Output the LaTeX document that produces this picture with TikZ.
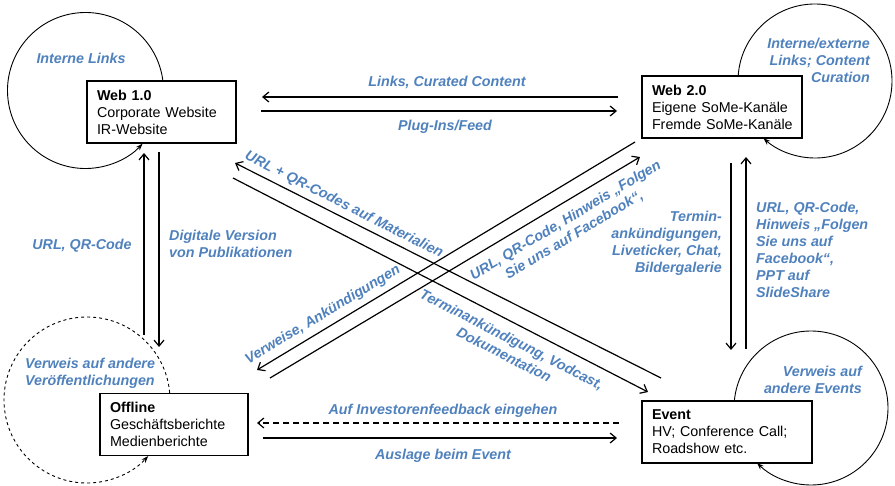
\documentclass[tikz,border=0pt]{standalone}
\usepackage{fontspec}
\setmainfont{Liberation Sans}
\usetikzlibrary{arrows.meta}
\definecolor{labelblue}{HTML}{4F81BD}
\begin{document}
\begin{tikzpicture}[x=1pt,y=-1pt,
  every node/.style={font=\fontsize{14.3}{17}\selectfont},
  box/.style={draw, line width=1.1pt, fill=white, rectangle, inner xsep=10pt,
    inner ysep=0pt, align=left, minimum height=62pt},
  lbl/.style={text=labelblue, inner sep=0pt,
    font=\fontsize{14.3}{17}\selectfont\bfseries\itshape},
  flow/.style={line width=1.2pt, -{Straight Barb[length=6pt,width=10pt]}},
  selfloop/.style={line width=0.9pt, -{Stealth[length=7pt,width=5pt]}},
]
\useasboundingbox (0,0) rectangle (895,486);

% self-reference loops behind the boxes
\coordinate (c1) at (85.5,90.5);
\coordinate (c2) at (815,81);
\coordinate (c3) at (87,400);
\coordinate (c4) at (811,408);
\draw[selfloop] ([shift={(-7:78)}]c1) arc[start angle=-7, end angle=-317, radius=78];
\draw[selfloop] ([shift={(-176:77)}]c2) arc[start angle=-176, end angle=132, radius=77];
\draw[selfloop, dashed] ([shift={(-5:83)}]c3) arc[start angle=-5, end angle=-317.5, radius=83];
\draw[selfloop] ([shift={(-174.5:77)}]c4) arc[start angle=-174.5, end angle=134.5, radius=77];

% channel boxes (each line kept in one piece)
\node[box, minimum width=149pt, text width=129pt] (web1) at (161.5,112)
  {\mbox{\textbf{Web 1.0}}\\\mbox{Corporate Website}\\\mbox{IR-Website}};
\node[box, minimum width=160pt, text width=140pt] (web2) at (722,107)
  {\mbox{\textbf{Web 2.0}}\\\mbox{Eigene SoMe-Kanäle}\\\mbox{Fremde SoMe-Kanäle}};
\node[box, minimum width=148pt, text width=128pt] (off) at (174,424.5)
  {\mbox{\textbf{Offline}}\\\mbox{Geschäftsberichte}\\\mbox{Medienberichte}};
\node[box, minimum width=170pt, text width=150pt] (evt) at (727,432)
  {\mbox{\textbf{Event}}\\\mbox{HV; Conference Call;}\\\mbox{Roadshow etc.}};

% loop labels
\node[lbl] (l1) at (81,58) {Interne Links};
\node[lbl, align=right, anchor=east] (l2) at (870,60.5) {Interne/externe\\Links; Content\\Curation};
\node[lbl, align=left, anchor=west] (l3) at (25,373.5) {Verweis auf andere\\Veröffentlichungen};
\node[lbl, align=right, anchor=east] (l4) at (862,379.5) {Verweis auf\\andere Events};

% end points of the connectors
\coordinate (a1) at (618,97);   \coordinate (a2) at (262,97);
\coordinate (b1) at (261,111);  \coordinate (b2) at (617,111);
\coordinate (d1) at (619,423);  \coordinate (d2) at (257,423);
\coordinate (e1) at (263,438);  \coordinate (e2) at (617,438);
\coordinate (f1) at (144,335);  \coordinate (f2) at (144,153);
\coordinate (g1) at (159,152);  \coordinate (g2) at (159,347);
\coordinate (h1) at (731,163);  \coordinate (h2) at (731,350);
\coordinate (i1) at (746,349);  \coordinate (i2) at (746,157);
\coordinate (j1) at (661,378);  \coordinate (j2) at (235,163);
\coordinate (k1) at (233,178);  \coordinate (k2) at (648,392);
\coordinate (m1) at (635,142);  \coordinate (m2) at (257,370);
\coordinate (n1) at (270,378);  \coordinate (n2) at (640,157);

% horizontal flows
\draw[flow] (a1) -- (a2);
\draw[flow] (b1) -- (b2);
\draw[flow, dashed, dash pattern=on 6pt off 4pt] (d1) -- (d2);
\draw[flow] (e1) -- (e2);
% vertical flows
\draw[flow] (f1) -- (f2);
\draw[flow] (g1) -- (g2);
\draw[flow] (h1) -- (h2);
\draw[flow] (i1) -- (i2);
% diagonal flows
\draw[flow] (j1) -- (j2);
\draw[flow] (k1) -- (k2);
\draw[flow] (m1) -- (m2);
\draw[flow] (n1) -- (n2);

% flow labels
\node[lbl] (ta) at (447,82) {Links, Curated Content};
\node[lbl] (tb) at (445,127) {Plug-Ins/Feed};
\node[lbl] (td) at (443,411) {Auf Investorenfeedback eingehen};
\node[lbl] (te) at (443,456) {Auslage beim Event};
\node[lbl] (tf) at (82,246) {URL, QR-Code};
\node[lbl, align=left, anchor=west] (tg) at (169,244) {Digitale Version\\von Publikationen};
\node[lbl, align=right, anchor=east] (th) at (722,243.5) {Termin-\\ankündigungen,\\Liveticker, Chat,\\Bildergalerie};
\node[lbl, align=left, anchor=west] (ti) at (756,250) {URL, QR-Code,\\Hinweis „Folgen\\Sie uns auf\\Facebook“,\\PPT auf\\SlideShare};
\node[lbl, rotate=-26.8] (tj) at (344,205) {URL + QR-Codes auf Materialien};
\node[lbl, rotate=-27.2, align=center] (tk) at (508,347) {Terminankündigung, Vodcast,\\Dokumentation};
\node[lbl, rotate=31.1] (tm) at (323,315) {Verweise, Ankündigungen};
\node[lbl, rotate=30.9, align=center] (tn) at (570,228) {URL, QR-Code, Hinweis „Folgen\\Sie uns auf Facebook“,};
\end{tikzpicture}
\end{document}
